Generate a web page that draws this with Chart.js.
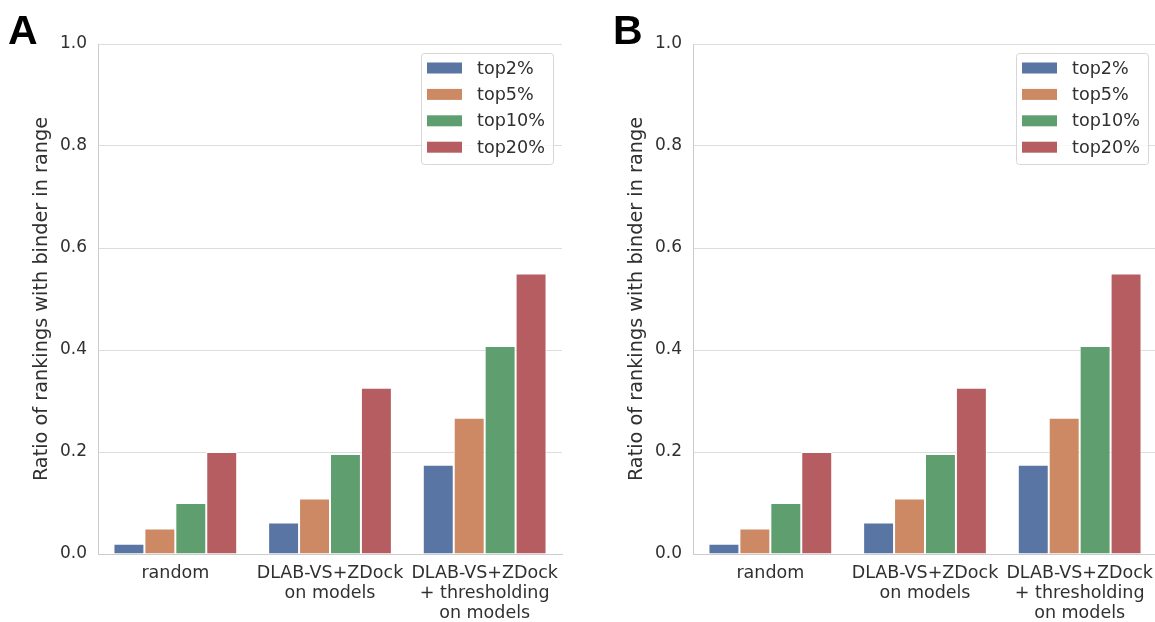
<!DOCTYPE html>
<html>
<head>
<meta charset="utf-8">
<script src="https://cdn.jsdelivr.net/npm/chart.js@4"></script>
<style>
  html, body { margin:0; padding:0; background:#fff; overflow:hidden; }
  body { width:1155px; height:622px; position:relative; }
  .panel { position:absolute; top:0; width:580px; height:622px; }
  .letter { position:absolute; font-family:"Liberation Sans", Arial, sans-serif; font-weight:bold;
            font-size:41px; line-height:41px; color:#000; }
</style>
</head>
<body>
<div class="panel" style="left:0"><canvas id="chartA" width="580" height="622"></canvas></div>
<div class="panel" style="left:595px"><canvas id="chartB" width="580" height="622"></canvas></div>
<div class="letter" style="left:8px; top:10px">A</div>
<div class="letter" style="left:613px; top:10px">B</div>
<script>
// data
const categories = ['random', ['DLAB-VS+ZDock', 'on models'], ['DLAB-VS+ZDock', '+ thresholding', 'on models']];
const seriesNames = ['top2%', 'top5%', 'top10%', 'top20%'];
const top2 = [0.02, 0.062, 0.175];
const top5 = [0.05, 0.109, 0.267];
const top10 = [0.1, 0.196, 0.408];
const top20 = [0.2, 0.326, 0.55];
const yTicks = [0, 0.2, 0.4, 0.6, 0.8, 1.0];
const yTitle = 'Ratio of rankings with binder in range';

const colors = ['#5975a4', '#cc8963', '#5f9e6e', '#b55d60'];
const FONT = '"DejaVu Sans", sans-serif';
const TEXT = '#303030';

// legend box drawn inside plot, top right
const boxLegend = {
  id: 'boxLegend',
  afterDraw(chart) {
    const ctx = chart.ctx;
    const ca = chart.chartArea;
    const w = 132, h = 111;
    const x = ca.right - 9 - w, y = ca.top + 9;
    ctx.save();
    ctx.beginPath();
    ctx.roundRect(x + 0.5, y + 0.5, w, h, 3);
    ctx.fillStyle = 'rgba(255,255,255,0.8)';
    ctx.fill();
    ctx.strokeStyle = '#d6d6d6';
    ctx.lineWidth = 1;
    ctx.stroke();
    ctx.font = '17.6px ' + FONT;
    ctx.textBaseline = 'middle';
    ctx.textAlign = 'left';
    chart.data.datasets.forEach((ds, i) => {
      const cy = y + 15 + i * 26.4;
      ctx.fillStyle = ds.backgroundColor;
      ctx.fillRect(x + 6, cy - 5.5, 35, 11);
      ctx.fillStyle = TEXT;
      ctx.fillText(ds.label, x + 56, cy + 1);
    });
    ctx.restore();
  }
};

function makeChart(id) {
  const ctx = document.getElementById(id).getContext('2d');
  return new Chart(ctx, {
    type: 'bar',
    data: {
      labels: categories,
      datasets: [top2, top5, top10, top20].map((d, i) => ({
        label: seriesNames[i],
        data: d,
        backgroundColor: colors[i],
        borderColor: '#ffffff',
        borderWidth: 1,
        categoryPercentage: 0.8,
        barPercentage: 1.0
      }))
    },
    options: {
      responsive: false,
      animation: false,
      layout: { padding: { left: 0, right: 18, top: 44, bottom: 0 } },
      plugins: { legend: { display: false }, tooltip: { enabled: false } },
      scales: {
        x: {
          grid: { display: false, drawTicks: false },
          border: { display: true, color: '#cccccc' },
          ticks: { color: TEXT, font: { family: FONT, size: 17.5, lineHeight: 1.15 }, padding: 9, maxRotation: 0, autoSkip: false },
          afterFit: s => { s.height = 68; }
        },
        y: {
          min: 0, max: 1,
          afterBuildTicks: s => { s.ticks = yTicks.map(v => ({ value: v })); },
          grid: { color: '#dddddd', drawTicks: false },
          border: { display: true, color: '#cccccc' },
          ticks: { color: TEXT, font: { family: FONT, size: 17 }, padding: 11, callback: v => v.toFixed(1) },
          title: { display: true, text: yTitle, color: TEXT, font: { family: FONT, size: 19.3 }, padding: { top: 30, bottom: 0 } },
          afterFit: s => { s.width = 98; }
        }
      }
    },
    plugins: [boxLegend]
  });
}

makeChart('chartA');
makeChart('chartB');
</script>
</body>
</html>
